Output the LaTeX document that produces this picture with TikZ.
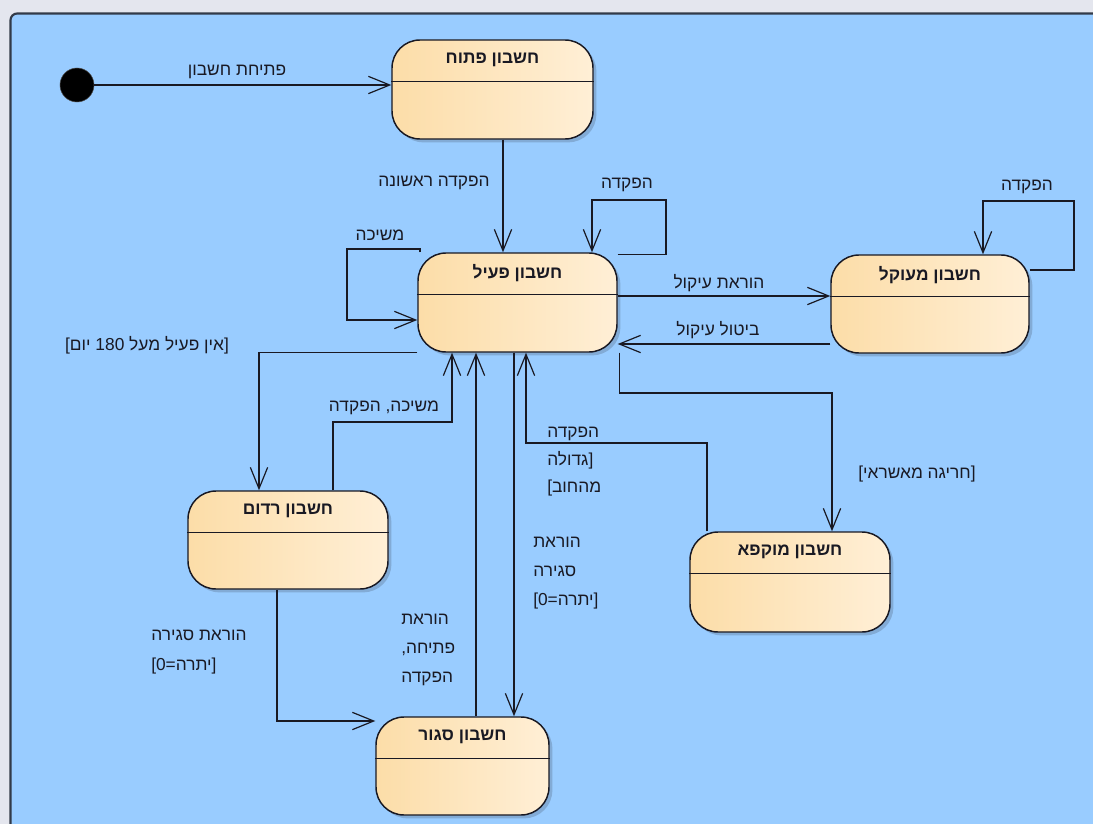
\documentclass[tikz,border=0pt]{standalone}
\usepackage{fontspec}
\newfontfamily\hebfont[Script=Hebrew]{Liberation Sans}
\newfontfamily\latfont{Liberation Sans}
\TeXXeTstate=1
\usetikzlibrary{arrows.meta,shadows}
\definecolor{bggray}{RGB}{228,230,238}
\definecolor{panel}{RGB}{153,204,255}
\definecolor{panelborder}{RGB}{50,58,72}
\definecolor{stL}{RGB}{252,221,168}
\definecolor{stR}{RGB}{255,239,214}
\definecolor{ink}{RGB}{25,25,35}
\newcommand\lat[1]{{\latfont #1}}
\newcommand\umlstate[6]{%
  \node[statebox, minimum width=#4*0.75pt, minimum height=#5*0.75pt] (#1) at (#2,#3) {};
  \draw[divider] ([yshift=-31.5pt]#1.north west) -- ([yshift=-31.5pt]#1.north east);
  \node[title] (#1T) at ([yshift=-15.75pt]#1.north) {#6};
}
\begin{document}
\begin{tikzpicture}[x=0.75pt,y=-0.75pt,
  statebox/.style={draw=ink, line width=1.1pt, rounded corners=21pt, left color=stL, right color=stR, inner sep=0pt,
    drop shadow={shadow xshift=2.5pt, shadow yshift=-2.5pt, fill=panelborder, opacity=0.22}},
  title/.style={font=\hebfont\bfseries\fontsize{13}{15}\selectfont, text=ink, inner sep=0pt},
  lbl/.style={font=\hebfont\fontsize{13}{15}\selectfont, text=ink, inner sep=0pt},
  mlbl/.style={text=ink, inner sep=0pt, align=left, anchor=west, font=\hebfont\fontsize{13}{#1}\selectfont},
  arr/.style={draw=ink, line width=0.9pt, -{Straight Barb[length=16pt,width=13pt,line width=0.9pt]}},
  divider/.style={draw=ink, line width=0.9pt},
]
\useasboundingbox (0,0) rectangle (1093,824);
\begin{scope}
\clip (0,0) rectangle (1093,824);
\fill[bggray] (0,0) rectangle (1093,824);
\draw[panelborder, fill=panel, line width=1.6pt, rounded corners=5pt] (10.5,13.5) rectangle (1130,860);
\end{scope}

% initial state
\node[circle, fill=black, draw=black!70, minimum size=34*0.75pt, inner sep=0pt] (init) at (77,85) {};

% states
\umlstate{open}{492.5}{89.5}{201}{99}{\beginR חשבון פתוח\endR}
\umlstate{active}{517.5}{302.5}{199}{99}{\beginR חשבון פעיל\endR}
\umlstate{susp}{930}{304}{198}{98}{\beginR חשבון מעוקל\endR}
\umlstate{dorm}{288}{540}{200}{98}{\beginR חשבון רדום\endR}
\umlstate{frozen}{790}{582}{200}{100}{\beginR חשבון מוקפא\endR}
\umlstate{closed}{462.5}{766}{173}{98}{\beginR חשבון סגור\endR}

% helper coordinates
\coordinate (xOA) at (503,0);
\coordinate (xLoopR) at (666,0);
\coordinate (xLoopRin) at (592,0);
\coordinate (yLoopTop) at (0,200);
\coordinate (xLoopL) at (420,0);
\coordinate (xLoopLout) at (347,0);
\coordinate (yLoopL) at (0,249);
\coordinate (yLoopLin) at (0,320);
\coordinate (ySusIn) at (0,296);
\coordinate (ySusOut) at (0,344);
\coordinate (ySLoopOut) at (0,270);
\coordinate (xSLoopR) at (1074,0);
\coordinate (ySLoopTop) at (0,201);
\coordinate (xSLoopIn) at (983,0);
\coordinate (xDormIn) at (259,0);
\coordinate (xDormOut) at (333,0);
\coordinate (yDormOut) at (0,422);
\coordinate (xDormAct) at (452,0);
\coordinate (xClosAct) at (476,0);
\coordinate (xActClos) at (514,0);
\coordinate (xFrozOut) at (707,0);
\coordinate (yFrozOut) at (0,443);
\coordinate (xFrozAct) at (526,0);
\coordinate (yActFroz) at (0,393);
\coordinate (xActFroz) at (832,0);
\coordinate (xDormClos) at (277,0);
\coordinate (yDormClos) at (0,721);

% connectors
\draw[arr] (init) -- (open.west |- init);
\draw[arr] (xOA |- open.south) -- (xOA |- active.north);
\draw[arr] ([yshift=-1.5pt]active.north east) -| (xLoopR |- yLoopTop) -| (xLoopRin |- active.north);
\draw[arr] (xLoopL |- active.north) -- (xLoopL |- yLoopL) -| (xLoopLout |- yLoopLin) -- (active.west |- yLoopLin);
\draw[arr] (active.east |- ySusIn) -- (susp.west |- ySusIn);
\draw[arr] (susp.west |- ySusOut) -- (active.east |- ySusOut);
\draw[arr] (susp.east |- ySLoopOut) -| (xSLoopR |- ySLoopTop) -| (xSLoopIn |- susp.north);
\draw[arr] (active.south west) -| (xDormIn |- dorm.north);
\draw[arr] (xDormOut |- dorm.north) |- (xDormAct |- yDormOut) -- (xDormAct |- active.south);
\draw[arr] (xClosAct |- closed.north) -- (xClosAct |- active.south);
\draw[arr] (xActClos |- active.south) -- (xActClos |- closed.north);
\draw[arr] (xFrozOut |- frozen.north) |- (xFrozAct |- yFrozOut) -- (xFrozAct |- active.south);
\draw[arr] ([xshift=1.5pt]active.south east) |- (xActFroz |- yActFroz) -- (xActFroz |- frozen.north);
\draw[arr] (xDormClos |- dorm.south) |- (closed.west |- yDormClos);

% labels
\node[lbl] (lInit) at (237,72) {\beginR פתיחת חשבון\endR};
\node[lbl] (lFirst) at (434,183) {\beginR הפקדה ראשונה\endR};
\node[lbl] (lDepA) at (627,185) {הפקדה};
\node[lbl] (lWith) at (380,235) {משיכה};
\node[lbl] (lSeize) at (719,283) {\beginR הוראת עיקול\endR};
\node[lbl] (lUnseize) at (718,330) {\beginR ביטול עיקול\endR};
\node[lbl] (lDepS) at (1027,187) {הפקדה};
\node[lbl] (lInactive) at (147,345) {\lat{[}\beginR אין פעיל מעל 180 יום\endR\lat{]}};
\node[lbl] (lDormAct) at (384,408) {\beginR משיכה\kern0pt, הפקדה\endR};
\node[lbl] (lOverdraft) at (917,474) {\lat{[}\beginR חריגה מאשראי\endR\lat{]}};
\node[mlbl=20.6pt] (lFrozAct) at (547,462) {הפקדה\\גדולה\lat{]}\\\lat{[}מהחוב};
\node[mlbl=22pt] (lActClos) at (533,573) {הוראת\\סגירה\\\lat{[0=}יתרה\lat{]}};
\node[mlbl=21.75pt] (lClosAct) at (401,650) {הוראת\\\beginR פתיחה\kern0pt,\endR\\הפקדה};
\node[mlbl=23pt] (lDormClos) at (151,652) {\beginR הוראת סגירה\endR\\\lat{[0=}יתרה\lat{]}};
\end{tikzpicture}
\end{document}
